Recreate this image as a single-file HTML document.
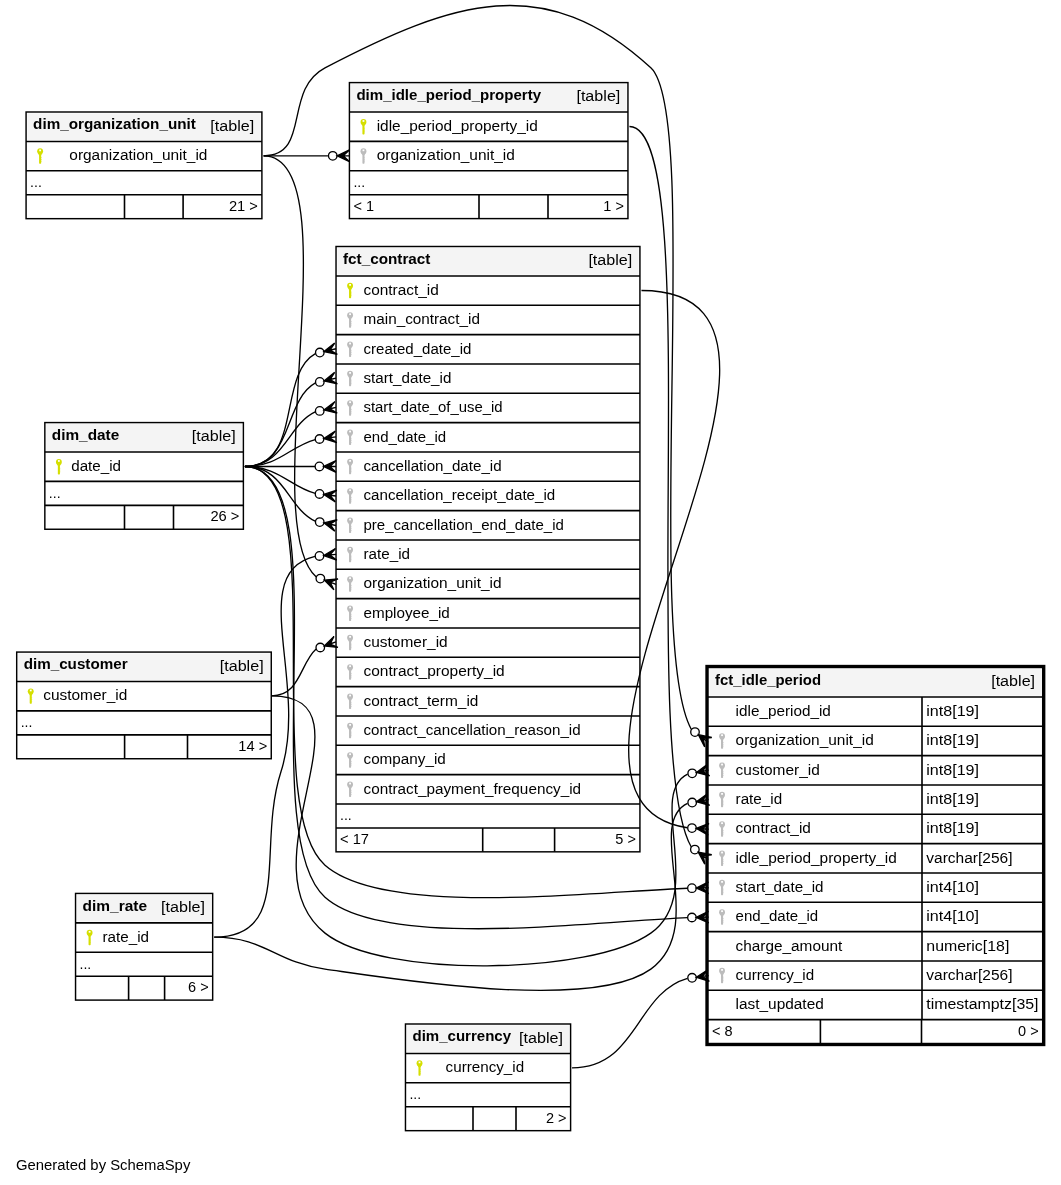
<!DOCTYPE html>
<html><head><meta charset="utf-8"><style>
html,body{margin:0;padding:0;background:#fff;width:1061px;height:1185px;overflow:hidden}
svg{display:block;will-change:transform}
text{font-family:"Liberation Sans",sans-serif;font-size:14.67px}
</style></head><body>
<svg width="1061" height="1185" viewBox="0 0 1061 1185">
<rect x="26.08" y="112.00" width="235.82" height="106.67" fill="#fff"/>
<rect x="27.48" y="113.40" width="233.02" height="26.73" fill="#f4f4f4"/>
<path d="M26.08,141.43H261.90M26.08,170.77H261.90M26.08,194.77H261.90M124.50,194.77V218.67M183.10,194.77V218.67" stroke="#000" stroke-width="1.6" fill="none"/>
<rect x="26.08" y="112.00" width="235.82" height="106.67" stroke="#000" stroke-width="1.45" fill="none"/>
<text x="33.08" y="129.30" textLength="162.81" lengthAdjust="spacingAndGlyphs" font-weight="bold" fill="#000">dim_organization_unit</text>
<text x="210.37" y="130.80" textLength="43.93" lengthAdjust="spacingAndGlyphs" fill="#000">[table]</text>
<g fill="#d5df00"><circle cx="40.13" cy="151.30" r="2.95"/><path d="M37.93,153.00L42.33,153.00L41.18,155.40L41.18,163.30Q40.13,164.30 39.08,163.30L39.08,155.40Z"/><rect x="41.03" y="157.20" width="0.45" height="0.9"/><rect x="41.03" y="159.00" width="0.45" height="0.9"/><rect x="41.03" y="160.80" width="0.45" height="0.9"/></g><rect x="39.23" y="149.50" width="1.8" height="1.75" fill="#fff"/>
<text x="69.30" y="160.38" textLength="138.14" lengthAdjust="spacingAndGlyphs" fill="#000">organization_unit_id</text>
<text x="30.08" y="187.17" textLength="11.71" lengthAdjust="spacingAndGlyphs" fill="#000">...</text>
<text x="228.92" y="210.77" textLength="28.98" lengthAdjust="spacingAndGlyphs" fill="#000">21 &gt;</text>
<rect x="349.42" y="82.60" width="278.53" height="136.00" fill="#fff"/>
<rect x="350.82" y="84.00" width="275.73" height="26.73" fill="#f4f4f4"/>
<path d="M349.42,112.03H627.95M349.42,141.37H627.95M349.42,170.70H627.95M349.42,194.70H627.95M479.00,194.70V218.60M548.00,194.70V218.60" stroke="#000" stroke-width="1.6" fill="none"/>
<rect x="349.42" y="82.60" width="278.53" height="136.00" stroke="#000" stroke-width="1.45" fill="none"/>
<text x="356.42" y="99.90" textLength="184.68" lengthAdjust="spacingAndGlyphs" font-weight="bold" fill="#000">dim_idle_period_property</text>
<text x="576.42" y="101.40" textLength="43.93" lengthAdjust="spacingAndGlyphs" fill="#000">[table]</text>
<g fill="#d5df00"><circle cx="363.47" cy="121.90" r="2.95"/><path d="M361.27,123.60L365.67,123.60L364.52,126.00L364.52,133.90Q363.47,134.90 362.42,133.90L362.42,126.00Z"/><rect x="364.37" y="127.80" width="0.45" height="0.9"/><rect x="364.37" y="129.60" width="0.45" height="0.9"/><rect x="364.37" y="131.40" width="0.45" height="0.9"/></g><rect x="362.57" y="120.10" width="1.8" height="1.75" fill="#fff"/>
<text x="376.70" y="130.98" textLength="161.17" lengthAdjust="spacingAndGlyphs" fill="#000">idle_period_property_id</text>
<g fill="#bcbcbc"><circle cx="363.47" cy="151.23" r="2.95"/><path d="M361.27,152.93L365.67,152.93L364.52,155.33L364.52,163.23Q363.47,164.23 362.42,163.23L362.42,155.33Z"/><rect x="364.37" y="157.13" width="0.45" height="0.9"/><rect x="364.37" y="158.93" width="0.45" height="0.9"/><rect x="364.37" y="160.73" width="0.45" height="0.9"/></g><rect x="362.57" y="149.43" width="1.8" height="1.75" fill="#fff"/>
<text x="376.70" y="160.32" textLength="138.14" lengthAdjust="spacingAndGlyphs" fill="#000">organization_unit_id</text>
<text x="353.42" y="187.10" textLength="11.71" lengthAdjust="spacingAndGlyphs" fill="#000">...</text>
<text x="353.42" y="210.70" textLength="20.59" lengthAdjust="spacingAndGlyphs" fill="#000">&lt; 1</text>
<text x="603.36" y="210.70" textLength="20.59" lengthAdjust="spacingAndGlyphs" fill="#000">1 &gt;</text>
<rect x="336.03" y="246.50" width="303.90" height="605.33" fill="#fff"/>
<rect x="337.43" y="247.90" width="301.10" height="26.73" fill="#f4f4f4"/>
<path d="M336.03,275.93H639.93M336.03,305.27H639.93M336.03,334.60H639.93M336.03,363.93H639.93M336.03,393.26H639.93M336.03,422.60H639.93M336.03,451.93H639.93M336.03,481.26H639.93M336.03,510.60H639.93M336.03,539.93H639.93M336.03,569.26H639.93M336.03,598.60H639.93M336.03,627.93H639.93M336.03,657.26H639.93M336.03,686.60H639.93M336.03,715.93H639.93M336.03,745.26H639.93M336.03,774.59H639.93M336.03,803.93H639.93M336.03,827.93H639.93M482.70,827.93V851.83M554.60,827.93V851.83" stroke="#000" stroke-width="1.6" fill="none"/>
<rect x="336.03" y="246.50" width="303.90" height="605.33" stroke="#000" stroke-width="1.45" fill="none"/>
<text x="343.03" y="263.80" textLength="87.40" lengthAdjust="spacingAndGlyphs" font-weight="bold" fill="#000">fct_contract</text>
<text x="588.40" y="265.30" textLength="43.93" lengthAdjust="spacingAndGlyphs" fill="#000">[table]</text>
<g fill="#d5df00"><circle cx="350.08" cy="285.80" r="2.95"/><path d="M347.88,287.50L352.28,287.50L351.13,289.90L351.13,297.80Q350.08,298.80 349.03,297.80L349.03,289.90Z"/><rect x="350.98" y="291.70" width="0.45" height="0.9"/><rect x="350.98" y="293.50" width="0.45" height="0.9"/><rect x="350.98" y="295.30" width="0.45" height="0.9"/></g><rect x="349.18" y="284.00" width="1.8" height="1.75" fill="#fff"/>
<text x="363.50" y="294.88" textLength="75.32" lengthAdjust="spacingAndGlyphs" fill="#000">contract_id</text>
<g fill="#bcbcbc"><circle cx="350.08" cy="315.13" r="2.95"/><path d="M347.88,316.83L352.28,316.83L351.13,319.23L351.13,327.13Q350.08,328.13 349.03,327.13L349.03,319.23Z"/><rect x="350.98" y="321.03" width="0.45" height="0.9"/><rect x="350.98" y="322.83" width="0.45" height="0.9"/><rect x="350.98" y="324.63" width="0.45" height="0.9"/></g><rect x="349.18" y="313.33" width="1.8" height="1.75" fill="#fff"/>
<text x="363.50" y="324.22" textLength="116.42" lengthAdjust="spacingAndGlyphs" fill="#000">main_contract_id</text>
<g fill="#bcbcbc"><circle cx="350.08" cy="344.47" r="2.95"/><path d="M347.88,346.17L352.28,346.17L351.13,348.57L351.13,356.47Q350.08,357.47 349.03,356.47L349.03,348.57Z"/><rect x="350.98" y="350.37" width="0.45" height="0.9"/><rect x="350.98" y="352.17" width="0.45" height="0.9"/><rect x="350.98" y="353.97" width="0.45" height="0.9"/></g><rect x="349.18" y="342.67" width="1.8" height="1.75" fill="#fff"/>
<text x="363.50" y="353.55" textLength="107.88" lengthAdjust="spacingAndGlyphs" fill="#000">created_date_id</text>
<g fill="#bcbcbc"><circle cx="350.08" cy="373.80" r="2.95"/><path d="M347.88,375.50L352.28,375.50L351.13,377.90L351.13,385.80Q350.08,386.80 349.03,385.80L349.03,377.90Z"/><rect x="350.98" y="379.70" width="0.45" height="0.9"/><rect x="350.98" y="381.50" width="0.45" height="0.9"/><rect x="350.98" y="383.30" width="0.45" height="0.9"/></g><rect x="349.18" y="372.00" width="1.8" height="1.75" fill="#fff"/>
<text x="363.50" y="382.88" textLength="87.92" lengthAdjust="spacingAndGlyphs" fill="#000">start_date_id</text>
<g fill="#bcbcbc"><circle cx="350.08" cy="403.13" r="2.95"/><path d="M347.88,404.83L352.28,404.83L351.13,407.23L351.13,415.13Q350.08,416.13 349.03,415.13L349.03,407.23Z"/><rect x="350.98" y="409.03" width="0.45" height="0.9"/><rect x="350.98" y="410.83" width="0.45" height="0.9"/><rect x="350.98" y="412.63" width="0.45" height="0.9"/></g><rect x="349.18" y="401.33" width="1.8" height="1.75" fill="#fff"/>
<text x="363.50" y="412.21" textLength="139.13" lengthAdjust="spacingAndGlyphs" fill="#000">start_date_of_use_id</text>
<g fill="#bcbcbc"><circle cx="350.08" cy="432.46" r="2.95"/><path d="M347.88,434.16L352.28,434.16L351.13,436.56L351.13,444.46Q350.08,445.46 349.03,444.46L349.03,436.56Z"/><rect x="350.98" y="438.36" width="0.45" height="0.9"/><rect x="350.98" y="440.16" width="0.45" height="0.9"/><rect x="350.98" y="441.96" width="0.45" height="0.9"/></g><rect x="349.18" y="430.66" width="1.8" height="1.75" fill="#fff"/>
<text x="363.50" y="441.55" textLength="82.64" lengthAdjust="spacingAndGlyphs" fill="#000">end_date_id</text>
<g fill="#bcbcbc"><circle cx="350.08" cy="461.80" r="2.95"/><path d="M347.88,463.50L352.28,463.50L351.13,465.90L351.13,473.80Q350.08,474.80 349.03,473.80L349.03,465.90Z"/><rect x="350.98" y="467.70" width="0.45" height="0.9"/><rect x="350.98" y="469.50" width="0.45" height="0.9"/><rect x="350.98" y="471.30" width="0.45" height="0.9"/></g><rect x="349.18" y="460.00" width="1.8" height="1.75" fill="#fff"/>
<text x="363.50" y="470.88" textLength="138.11" lengthAdjust="spacingAndGlyphs" fill="#000">cancellation_date_id</text>
<g fill="#bcbcbc"><circle cx="350.08" cy="491.13" r="2.95"/><path d="M347.88,492.83L352.28,492.83L351.13,495.23L351.13,503.13Q350.08,504.13 349.03,503.13L349.03,495.23Z"/><rect x="350.98" y="497.03" width="0.45" height="0.9"/><rect x="350.98" y="498.83" width="0.45" height="0.9"/><rect x="350.98" y="500.63" width="0.45" height="0.9"/></g><rect x="349.18" y="489.33" width="1.8" height="1.75" fill="#fff"/>
<text x="363.50" y="500.21" textLength="191.70" lengthAdjust="spacingAndGlyphs" fill="#000">cancellation_receipt_date_id</text>
<g fill="#bcbcbc"><circle cx="350.08" cy="520.46" r="2.95"/><path d="M347.88,522.16L352.28,522.16L351.13,524.56L351.13,532.46Q350.08,533.46 349.03,532.46L349.03,524.56Z"/><rect x="350.98" y="526.36" width="0.45" height="0.9"/><rect x="350.98" y="528.16" width="0.45" height="0.9"/><rect x="350.98" y="529.96" width="0.45" height="0.9"/></g><rect x="349.18" y="518.66" width="1.8" height="1.75" fill="#fff"/>
<text x="363.50" y="529.55" textLength="200.40" lengthAdjust="spacingAndGlyphs" fill="#000">pre_cancellation_end_date_id</text>
<g fill="#bcbcbc"><circle cx="350.08" cy="549.80" r="2.95"/><path d="M347.88,551.50L352.28,551.50L351.13,553.90L351.13,561.80Q350.08,562.80 349.03,561.80L349.03,553.90Z"/><rect x="350.98" y="555.70" width="0.45" height="0.9"/><rect x="350.98" y="557.50" width="0.45" height="0.9"/><rect x="350.98" y="559.30" width="0.45" height="0.9"/></g><rect x="349.18" y="548.00" width="1.8" height="1.75" fill="#fff"/>
<text x="363.50" y="558.88" textLength="46.54" lengthAdjust="spacingAndGlyphs" fill="#000">rate_id</text>
<g fill="#bcbcbc"><circle cx="350.08" cy="579.13" r="2.95"/><path d="M347.88,580.83L352.28,580.83L351.13,583.23L351.13,591.13Q350.08,592.13 349.03,591.13L349.03,583.23Z"/><rect x="350.98" y="585.03" width="0.45" height="0.9"/><rect x="350.98" y="586.83" width="0.45" height="0.9"/><rect x="350.98" y="588.63" width="0.45" height="0.9"/></g><rect x="349.18" y="577.33" width="1.8" height="1.75" fill="#fff"/>
<text x="363.50" y="588.21" textLength="138.14" lengthAdjust="spacingAndGlyphs" fill="#000">organization_unit_id</text>
<g fill="#bcbcbc"><circle cx="350.08" cy="608.46" r="2.95"/><path d="M347.88,610.16L352.28,610.16L351.13,612.56L351.13,620.46Q350.08,621.46 349.03,620.46L349.03,612.56Z"/><rect x="350.98" y="614.36" width="0.45" height="0.9"/><rect x="350.98" y="616.16" width="0.45" height="0.9"/><rect x="350.98" y="617.96" width="0.45" height="0.9"/></g><rect x="349.18" y="606.66" width="1.8" height="1.75" fill="#fff"/>
<text x="363.50" y="617.55" textLength="86.27" lengthAdjust="spacingAndGlyphs" fill="#000">employee_id</text>
<g fill="#bcbcbc"><circle cx="350.08" cy="637.80" r="2.95"/><path d="M347.88,639.50L352.28,639.50L351.13,641.90L351.13,649.80Q350.08,650.80 349.03,649.80L349.03,641.90Z"/><rect x="350.98" y="643.70" width="0.45" height="0.9"/><rect x="350.98" y="645.50" width="0.45" height="0.9"/><rect x="350.98" y="647.30" width="0.45" height="0.9"/></g><rect x="349.18" y="636.00" width="1.8" height="1.75" fill="#fff"/>
<text x="363.50" y="646.88" textLength="84.17" lengthAdjust="spacingAndGlyphs" fill="#000">customer_id</text>
<g fill="#bcbcbc"><circle cx="350.08" cy="667.13" r="2.95"/><path d="M347.88,668.83L352.28,668.83L351.13,671.23L351.13,679.13Q350.08,680.13 349.03,679.13L349.03,671.23Z"/><rect x="350.98" y="673.03" width="0.45" height="0.9"/><rect x="350.98" y="674.83" width="0.45" height="0.9"/><rect x="350.98" y="676.63" width="0.45" height="0.9"/></g><rect x="349.18" y="665.33" width="1.8" height="1.75" fill="#fff"/>
<text x="363.50" y="676.21" textLength="141.22" lengthAdjust="spacingAndGlyphs" fill="#000">contract_property_id</text>
<g fill="#bcbcbc"><circle cx="350.08" cy="696.46" r="2.95"/><path d="M347.88,698.16L352.28,698.16L351.13,700.56L351.13,708.46Q350.08,709.46 349.03,708.46L349.03,700.56Z"/><rect x="350.98" y="702.36" width="0.45" height="0.9"/><rect x="350.98" y="704.16" width="0.45" height="0.9"/><rect x="350.98" y="705.96" width="0.45" height="0.9"/></g><rect x="349.18" y="694.66" width="1.8" height="1.75" fill="#fff"/>
<text x="363.50" y="705.54" textLength="114.94" lengthAdjust="spacingAndGlyphs" fill="#000">contract_term_id</text>
<g fill="#bcbcbc"><circle cx="350.08" cy="725.79" r="2.95"/><path d="M347.88,727.49L352.28,727.49L351.13,729.89L351.13,737.79Q350.08,738.79 349.03,737.79L349.03,729.89Z"/><rect x="350.98" y="731.69" width="0.45" height="0.9"/><rect x="350.98" y="733.49" width="0.45" height="0.9"/><rect x="350.98" y="735.29" width="0.45" height="0.9"/></g><rect x="349.18" y="723.99" width="1.8" height="1.75" fill="#fff"/>
<text x="363.50" y="734.88" textLength="217.12" lengthAdjust="spacingAndGlyphs" fill="#000">contract_cancellation_reason_id</text>
<g fill="#bcbcbc"><circle cx="350.08" cy="755.13" r="2.95"/><path d="M347.88,756.83L352.28,756.83L351.13,759.23L351.13,767.13Q350.08,768.13 349.03,767.13L349.03,759.23Z"/><rect x="350.98" y="761.03" width="0.45" height="0.9"/><rect x="350.98" y="762.83" width="0.45" height="0.9"/><rect x="350.98" y="764.63" width="0.45" height="0.9"/></g><rect x="349.18" y="753.33" width="1.8" height="1.75" fill="#fff"/>
<text x="363.50" y="764.21" textLength="82.31" lengthAdjust="spacingAndGlyphs" fill="#000">company_id</text>
<g fill="#bcbcbc"><circle cx="350.08" cy="784.46" r="2.95"/><path d="M347.88,786.16L352.28,786.16L351.13,788.56L351.13,796.46Q350.08,797.46 349.03,796.46L349.03,788.56Z"/><rect x="350.98" y="790.36" width="0.45" height="0.9"/><rect x="350.98" y="792.16" width="0.45" height="0.9"/><rect x="350.98" y="793.96" width="0.45" height="0.9"/></g><rect x="349.18" y="782.66" width="1.8" height="1.75" fill="#fff"/>
<text x="363.50" y="793.54" textLength="217.58" lengthAdjust="spacingAndGlyphs" fill="#000">contract_payment_frequency_id</text>
<text x="340.03" y="820.33" textLength="11.71" lengthAdjust="spacingAndGlyphs" fill="#000">...</text>
<text x="340.03" y="843.93" textLength="28.98" lengthAdjust="spacingAndGlyphs" fill="#000">&lt; 17</text>
<text x="615.34" y="843.93" textLength="20.59" lengthAdjust="spacingAndGlyphs" fill="#000">5 &gt;</text>
<rect x="44.84" y="422.58" width="198.54" height="106.67" fill="#fff"/>
<rect x="46.24" y="423.98" width="195.74" height="26.73" fill="#f4f4f4"/>
<path d="M44.84,452.01H243.38M44.84,481.35H243.38M44.84,505.35H243.38M124.50,505.35V529.25M173.50,505.35V529.25" stroke="#000" stroke-width="1.6" fill="none"/>
<rect x="44.84" y="422.58" width="198.54" height="106.67" stroke="#000" stroke-width="1.45" fill="none"/>
<text x="51.84" y="439.88" textLength="67.38" lengthAdjust="spacingAndGlyphs" font-weight="bold" fill="#000">dim_date</text>
<text x="191.85" y="441.38" textLength="43.93" lengthAdjust="spacingAndGlyphs" fill="#000">[table]</text>
<g fill="#d5df00"><circle cx="58.89" cy="461.88" r="2.95"/><path d="M56.69,463.58L61.09,463.58L59.94,465.98L59.94,473.88Q58.89,474.88 57.84,473.88L57.84,465.98Z"/><rect x="59.79" y="467.78" width="0.45" height="0.9"/><rect x="59.79" y="469.58" width="0.45" height="0.9"/><rect x="59.79" y="471.38" width="0.45" height="0.9"/></g><rect x="57.99" y="460.08" width="1.8" height="1.75" fill="#fff"/>
<text x="71.20" y="470.96" textLength="49.84" lengthAdjust="spacingAndGlyphs" fill="#000">date_id</text>
<text x="48.84" y="497.75" textLength="11.71" lengthAdjust="spacingAndGlyphs" fill="#000">...</text>
<text x="210.40" y="521.35" textLength="28.98" lengthAdjust="spacingAndGlyphs" fill="#000">26 &gt;</text>
<rect x="16.70" y="652.07" width="254.56" height="106.67" fill="#fff"/>
<rect x="18.10" y="653.47" width="251.76" height="26.73" fill="#f4f4f4"/>
<path d="M16.70,681.50H271.26M16.70,710.84H271.26M16.70,734.84H271.26M124.60,734.84V758.74M187.50,734.84V758.74" stroke="#000" stroke-width="1.6" fill="none"/>
<rect x="16.70" y="652.07" width="254.56" height="106.67" stroke="#000" stroke-width="1.45" fill="none"/>
<text x="23.70" y="669.37" textLength="103.86" lengthAdjust="spacingAndGlyphs" font-weight="bold" fill="#000">dim_customer</text>
<text x="219.73" y="670.87" textLength="43.93" lengthAdjust="spacingAndGlyphs" fill="#000">[table]</text>
<g fill="#d5df00"><circle cx="30.75" cy="691.37" r="2.95"/><path d="M28.55,693.07L32.95,693.07L31.80,695.47L31.80,703.37Q30.75,704.37 29.70,703.37L29.70,695.47Z"/><rect x="31.65" y="697.27" width="0.45" height="0.9"/><rect x="31.65" y="699.07" width="0.45" height="0.9"/><rect x="31.65" y="700.87" width="0.45" height="0.9"/></g><rect x="29.85" y="689.57" width="1.8" height="1.75" fill="#fff"/>
<text x="43.20" y="700.45" textLength="84.17" lengthAdjust="spacingAndGlyphs" fill="#000">customer_id</text>
<text x="20.70" y="727.24" textLength="11.71" lengthAdjust="spacingAndGlyphs" fill="#000">...</text>
<text x="238.28" y="750.84" textLength="28.98" lengthAdjust="spacingAndGlyphs" fill="#000">14 &gt;</text>
<rect x="75.55" y="893.43" width="137.12" height="106.67" fill="#fff"/>
<rect x="76.95" y="894.83" width="134.32" height="26.73" fill="#f4f4f4"/>
<path d="M75.55,922.86H212.67M75.55,952.20H212.67M75.55,976.20H212.67M128.60,976.20V1000.10M164.60,976.20V1000.10" stroke="#000" stroke-width="1.6" fill="none"/>
<rect x="75.55" y="893.43" width="137.12" height="106.67" stroke="#000" stroke-width="1.45" fill="none"/>
<text x="82.55" y="910.73" textLength="64.46" lengthAdjust="spacingAndGlyphs" font-weight="bold" fill="#000">dim_rate</text>
<text x="161.14" y="912.23" textLength="43.93" lengthAdjust="spacingAndGlyphs" fill="#000">[table]</text>
<g fill="#d5df00"><circle cx="89.60" cy="932.73" r="2.95"/><path d="M87.40,934.43L91.80,934.43L90.65,936.83L90.65,944.73Q89.60,945.73 88.55,944.73L88.55,936.83Z"/><rect x="90.50" y="938.63" width="0.45" height="0.9"/><rect x="90.50" y="940.43" width="0.45" height="0.9"/><rect x="90.50" y="942.23" width="0.45" height="0.9"/></g><rect x="88.70" y="930.93" width="1.8" height="1.75" fill="#fff"/>
<text x="102.50" y="941.81" textLength="46.54" lengthAdjust="spacingAndGlyphs" fill="#000">rate_id</text>
<text x="79.55" y="968.60" textLength="11.71" lengthAdjust="spacingAndGlyphs" fill="#000">...</text>
<text x="188.08" y="992.20" textLength="20.59" lengthAdjust="spacingAndGlyphs" fill="#000">6 &gt;</text>
<rect x="405.47" y="1024.00" width="165.13" height="106.67" fill="#fff"/>
<rect x="406.87" y="1025.40" width="162.33" height="26.73" fill="#f4f4f4"/>
<path d="M405.47,1053.43H570.60M405.47,1082.77H570.60M405.47,1106.77H570.60M473.00,1106.77V1130.67M516.00,1106.77V1130.67" stroke="#000" stroke-width="1.6" fill="none"/>
<rect x="405.47" y="1024.00" width="165.13" height="106.67" stroke="#000" stroke-width="1.45" fill="none"/>
<text x="412.47" y="1041.30" textLength="98.61" lengthAdjust="spacingAndGlyphs" font-weight="bold" fill="#000">dim_currency</text>
<text x="519.07" y="1042.80" textLength="43.93" lengthAdjust="spacingAndGlyphs" fill="#000">[table]</text>
<g fill="#d5df00"><circle cx="419.52" cy="1063.30" r="2.95"/><path d="M417.32,1065.00L421.72,1065.00L420.57,1067.40L420.57,1075.30Q419.52,1076.30 418.47,1075.30L418.47,1067.40Z"/><rect x="420.42" y="1069.20" width="0.45" height="0.9"/><rect x="420.42" y="1071.00" width="0.45" height="0.9"/><rect x="420.42" y="1072.80" width="0.45" height="0.9"/></g><rect x="418.62" y="1061.50" width="1.8" height="1.75" fill="#fff"/>
<text x="445.60" y="1072.38" textLength="78.56" lengthAdjust="spacingAndGlyphs" fill="#000">currency_id</text>
<text x="409.47" y="1099.17" textLength="11.71" lengthAdjust="spacingAndGlyphs" fill="#000">...</text>
<text x="546.01" y="1122.77" textLength="20.59" lengthAdjust="spacingAndGlyphs" fill="#000">2 &gt;</text>
<rect x="708.00" y="667.50" width="334.70" height="376.00" fill="#fff"/>
<rect x="709.40" y="668.90" width="331.90" height="26.73" fill="#f4f4f4"/>
<path d="M708.00,696.93H1042.70M708.00,726.27H1042.70M708.00,755.60H1042.70M708.00,784.93H1042.70M708.00,814.26H1042.70M708.00,843.60H1042.70M708.00,872.93H1042.70M708.00,902.26H1042.70M708.00,931.60H1042.70M708.00,960.93H1042.70M708.00,990.26H1042.70M708.00,1019.60H1042.70M820.40,1019.60V1043.50M921.50,1019.60V1043.50M922.00,696.83V1019.50" stroke="#000" stroke-width="1.6" fill="none"/>
<rect x="708.00" y="667.50" width="334.70" height="376.00" stroke="#000" stroke-width="1.45" fill="none"/>
<rect x="706.67" y="666.17" width="337.37" height="378.67" stroke="#000" stroke-width="2.67" fill="none"/>
<text x="715.00" y="684.80" textLength="106.01" lengthAdjust="spacingAndGlyphs" font-weight="bold" fill="#000">fct_idle_period</text>
<text x="991.17" y="686.30" textLength="43.93" lengthAdjust="spacingAndGlyphs" fill="#000">[table]</text>
<text x="735.60" y="715.88" textLength="95.27" lengthAdjust="spacingAndGlyphs" fill="#000">idle_period_id</text>
<text x="926.30" y="715.88" textLength="52.72" lengthAdjust="spacingAndGlyphs" fill="#000">int8[19]</text>
<g fill="#bcbcbc"><circle cx="722.05" cy="736.13" r="2.95"/><path d="M719.85,737.83L724.25,737.83L723.10,740.23L723.10,748.13Q722.05,749.13 721.00,748.13L721.00,740.23Z"/><rect x="722.95" y="742.03" width="0.45" height="0.9"/><rect x="722.95" y="743.83" width="0.45" height="0.9"/><rect x="722.95" y="745.63" width="0.45" height="0.9"/></g><rect x="721.15" y="734.33" width="1.8" height="1.75" fill="#fff"/>
<text x="735.60" y="745.22" textLength="138.14" lengthAdjust="spacingAndGlyphs" fill="#000">organization_unit_id</text>
<text x="926.30" y="745.22" textLength="52.72" lengthAdjust="spacingAndGlyphs" fill="#000">int8[19]</text>
<g fill="#bcbcbc"><circle cx="722.05" cy="765.47" r="2.95"/><path d="M719.85,767.17L724.25,767.17L723.10,769.57L723.10,777.47Q722.05,778.47 721.00,777.47L721.00,769.57Z"/><rect x="722.95" y="771.37" width="0.45" height="0.9"/><rect x="722.95" y="773.17" width="0.45" height="0.9"/><rect x="722.95" y="774.97" width="0.45" height="0.9"/></g><rect x="721.15" y="763.67" width="1.8" height="1.75" fill="#fff"/>
<text x="735.60" y="774.55" textLength="84.17" lengthAdjust="spacingAndGlyphs" fill="#000">customer_id</text>
<text x="926.30" y="774.55" textLength="52.72" lengthAdjust="spacingAndGlyphs" fill="#000">int8[19]</text>
<g fill="#bcbcbc"><circle cx="722.05" cy="794.80" r="2.95"/><path d="M719.85,796.50L724.25,796.50L723.10,798.90L723.10,806.80Q722.05,807.80 721.00,806.80L721.00,798.90Z"/><rect x="722.95" y="800.70" width="0.45" height="0.9"/><rect x="722.95" y="802.50" width="0.45" height="0.9"/><rect x="722.95" y="804.30" width="0.45" height="0.9"/></g><rect x="721.15" y="793.00" width="1.8" height="1.75" fill="#fff"/>
<text x="735.60" y="803.88" textLength="46.54" lengthAdjust="spacingAndGlyphs" fill="#000">rate_id</text>
<text x="926.30" y="803.88" textLength="52.72" lengthAdjust="spacingAndGlyphs" fill="#000">int8[19]</text>
<g fill="#bcbcbc"><circle cx="722.05" cy="824.13" r="2.95"/><path d="M719.85,825.83L724.25,825.83L723.10,828.23L723.10,836.13Q722.05,837.13 721.00,836.13L721.00,828.23Z"/><rect x="722.95" y="830.03" width="0.45" height="0.9"/><rect x="722.95" y="831.83" width="0.45" height="0.9"/><rect x="722.95" y="833.63" width="0.45" height="0.9"/></g><rect x="721.15" y="822.33" width="1.8" height="1.75" fill="#fff"/>
<text x="735.60" y="833.21" textLength="75.32" lengthAdjust="spacingAndGlyphs" fill="#000">contract_id</text>
<text x="926.30" y="833.21" textLength="52.72" lengthAdjust="spacingAndGlyphs" fill="#000">int8[19]</text>
<g fill="#bcbcbc"><circle cx="722.05" cy="853.46" r="2.95"/><path d="M719.85,855.16L724.25,855.16L723.10,857.56L723.10,865.46Q722.05,866.46 721.00,865.46L721.00,857.56Z"/><rect x="722.95" y="859.36" width="0.45" height="0.9"/><rect x="722.95" y="861.16" width="0.45" height="0.9"/><rect x="722.95" y="862.96" width="0.45" height="0.9"/></g><rect x="721.15" y="851.66" width="1.8" height="1.75" fill="#fff"/>
<text x="735.60" y="862.55" textLength="161.17" lengthAdjust="spacingAndGlyphs" fill="#000">idle_period_property_id</text>
<text x="926.30" y="862.55" textLength="86.16" lengthAdjust="spacingAndGlyphs" fill="#000">varchar[256]</text>
<g fill="#bcbcbc"><circle cx="722.05" cy="882.80" r="2.95"/><path d="M719.85,884.50L724.25,884.50L723.10,886.90L723.10,894.80Q722.05,895.80 721.00,894.80L721.00,886.90Z"/><rect x="722.95" y="888.70" width="0.45" height="0.9"/><rect x="722.95" y="890.50" width="0.45" height="0.9"/><rect x="722.95" y="892.30" width="0.45" height="0.9"/></g><rect x="721.15" y="881.00" width="1.8" height="1.75" fill="#fff"/>
<text x="735.60" y="891.88" textLength="87.92" lengthAdjust="spacingAndGlyphs" fill="#000">start_date_id</text>
<text x="926.30" y="891.88" textLength="52.72" lengthAdjust="spacingAndGlyphs" fill="#000">int4[10]</text>
<g fill="#bcbcbc"><circle cx="722.05" cy="912.13" r="2.95"/><path d="M719.85,913.83L724.25,913.83L723.10,916.23L723.10,924.13Q722.05,925.13 721.00,924.13L721.00,916.23Z"/><rect x="722.95" y="918.03" width="0.45" height="0.9"/><rect x="722.95" y="919.83" width="0.45" height="0.9"/><rect x="722.95" y="921.63" width="0.45" height="0.9"/></g><rect x="721.15" y="910.33" width="1.8" height="1.75" fill="#fff"/>
<text x="735.60" y="921.21" textLength="82.64" lengthAdjust="spacingAndGlyphs" fill="#000">end_date_id</text>
<text x="926.30" y="921.21" textLength="52.72" lengthAdjust="spacingAndGlyphs" fill="#000">int4[10]</text>
<text x="735.60" y="950.55" textLength="106.69" lengthAdjust="spacingAndGlyphs" fill="#000">charge_amount</text>
<text x="926.30" y="950.55" textLength="83.00" lengthAdjust="spacingAndGlyphs" fill="#000">numeric[18]</text>
<g fill="#bcbcbc"><circle cx="722.05" cy="970.80" r="2.95"/><path d="M719.85,972.50L724.25,972.50L723.10,974.90L723.10,982.80Q722.05,983.80 721.00,982.80L721.00,974.90Z"/><rect x="722.95" y="976.70" width="0.45" height="0.9"/><rect x="722.95" y="978.50" width="0.45" height="0.9"/><rect x="722.95" y="980.30" width="0.45" height="0.9"/></g><rect x="721.15" y="969.00" width="1.8" height="1.75" fill="#fff"/>
<text x="735.60" y="979.88" textLength="78.56" lengthAdjust="spacingAndGlyphs" fill="#000">currency_id</text>
<text x="926.30" y="979.88" textLength="86.16" lengthAdjust="spacingAndGlyphs" fill="#000">varchar[256]</text>
<text x="735.60" y="1009.21" textLength="88.17" lengthAdjust="spacingAndGlyphs" fill="#000">last_updated</text>
<text x="926.30" y="1009.21" textLength="112.21" lengthAdjust="spacingAndGlyphs" fill="#000">timestamptz[35]</text>
<text x="712.00" y="1035.60" textLength="20.59" lengthAdjust="spacingAndGlyphs" fill="#000">&lt; 8</text>
<text x="1018.11" y="1035.60" textLength="20.59" lengthAdjust="spacingAndGlyphs" fill="#000">0 &gt;</text>
<text x="16.00" y="1169.50" textLength="174.32" lengthAdjust="spacingAndGlyphs" fill="#000">Generated by SchemaSpy</text>
<g fill="none" stroke="#000" stroke-width="1.33">
<path d="M327.92,155.81C305.37,155.81 293.38,155.81 263.59,155.81"/>
<polygon fill="#000" points="337.03,155.81 349.42,149.95 343.22,155.81 349.42,155.81 349.42,155.81 349.42,155.81 343.22,155.81 349.42,161.66 337.03,155.81"/>
<circle cx="332.75" cy="155.81" r="4.27"/>
<path d="M316.30,577.09C254.76,522.63 352.96,155.81 263.59,155.81"/>
<polygon fill="#000" points="324.34,580.09 338.01,578.92 330.15,582.24 335.96,584.40 335.96,584.40 335.96,584.40 330.15,582.24 333.90,589.88 324.34,580.09"/>
<circle cx="320.35" cy="578.59" r="4.27"/>
<path d="M315.10,466.47C289.94,466.47 277.35,466.47 244.89,466.47"/>
<polygon fill="#000" points="323.67,466.47 336.06,460.62 329.87,466.47 336.06,466.47 336.06,466.47 336.06,466.47 329.87,466.47 336.06,472.33 323.67,466.47"/>
<circle cx="319.40" cy="466.47" r="4.27"/>
<path d="M315.23,493.41C289.37,486.41 279.38,466.47 244.89,466.47"/>
<polygon fill="#000" points="323.75,494.47 336.78,490.21 329.90,495.25 336.05,496.02 336.05,496.02 336.05,496.02 329.90,495.25 335.32,501.83 323.75,494.47"/>
<circle cx="319.52" cy="493.94" r="4.27"/>
<path d="M315.35,353.59C277.05,375.03 302.84,466.47 244.89,466.47"/>
<polygon fill="#000" points="323.95,351.58 334.68,343.06 329.99,350.16 336.02,348.75 336.02,348.75 336.02,348.75 329.99,350.16 337.36,354.44 323.95,351.58"/>
<circle cx="319.80" cy="352.55" r="4.27"/>
<path d="M315.23,439.54C289.37,446.54 279.38,466.47 244.89,466.47"/>
<polygon fill="#000" points="323.75,438.47 335.32,431.12 329.90,437.70 336.05,436.93 336.05,436.93 336.05,436.93 329.90,437.70 336.78,442.73 323.75,438.47"/>
<circle cx="319.52" cy="439.01" r="4.27"/>
<path d="M315.15,521.11C287.23,507.85 284.84,466.47 244.89,466.47"/>
<polygon fill="#000" points="323.90,522.94 337.23,519.77 329.96,524.22 336.03,525.49 336.03,525.49 336.03,525.49 329.96,524.22 334.82,531.22 323.90,522.94"/>
<circle cx="319.72" cy="522.06" r="4.27"/>
<path d="M315.43,382.95C283.15,400.89 293.07,466.47 244.89,466.47"/>
<polygon fill="#000" points="323.97,380.94 334.67,372.39 329.99,379.51 336.02,378.08 336.02,378.08 336.02,378.08 329.99,379.51 337.37,383.77 323.97,380.94"/>
<circle cx="319.80" cy="381.93" r="4.27"/>
<path d="M315.15,411.83C287.23,425.10 284.84,466.47 244.89,466.47"/>
<polygon fill="#000" points="323.90,410.01 334.82,401.73 329.96,408.73 336.03,407.45 336.03,407.45 336.03,407.45 329.96,408.73 337.23,413.18 323.90,410.01"/>
<circle cx="319.72" cy="410.89" r="4.27"/>
<path d="M316.10,649.01C300.07,663.26 300.21,695.81 271.60,695.81"/>
<polygon fill="#000" points="324.30,646.07 333.98,636.38 330.13,643.99 335.96,641.90 335.96,641.90 335.96,641.90 330.13,643.99 337.95,647.41 324.30,646.07"/>
<circle cx="320.28" cy="647.51" r="4.27"/>
<path d="M314.98,556.43C245.56,572.53 309.25,684.18 280.95,771.81 256.59,847.21 293.52,937.14 214.18,937.14"/>
<polygon fill="#000" points="323.73,555.55 335.47,548.48 329.89,554.93 336.06,554.30 336.06,554.30 336.06,554.30 329.89,554.93 336.64,560.12 323.73,555.55"/>
<circle cx="319.48" cy="555.98" r="4.27"/>
<path d="M691.29,846.98C636.88,753.85 705.27,126.47 629.44,126.47"/>
<polygon fill="#000" points="698.29,852.14 711.75,854.77 703.28,855.81 708.27,859.49 708.27,859.49 708.27,859.49 703.28,855.81 704.78,864.20 698.29,852.14"/>
<circle cx="694.86" cy="849.61" r="4.27"/>
<path d="M691.25,729.23C643.05,642.86 701.59,114.47 650.81,67.81 544.26,-30.11 453.38,0.90 325.01,67.81 282.68,89.86 311.32,155.81 263.59,155.81"/>
<polygon fill="#000" points="698.40,734.67 711.80,737.52 703.32,738.42 708.25,742.17 708.25,742.17 708.25,742.17 703.32,738.42 704.70,746.83 698.40,734.67"/>
<circle cx="694.99" cy="732.09" r="4.27"/>
<path d="M687.33,827.78C489.28,798.03 875.89,290.47 641.46,290.47"/>
<polygon fill="#000" points="696.23,828.39 709.00,823.42 702.41,828.83 708.59,829.26 708.59,829.26 708.59,829.26 702.41,828.83 708.19,835.10 696.23,828.39"/>
<circle cx="691.97" cy="828.10" r="4.27"/>
<path d="M687.49,917.61C590.79,921.69 384.12,949.73 325.01,897.14 252.22,832.39 342.38,466.47 244.89,466.47"/>
<polygon fill="#000" points="696.21,917.39 708.45,911.24 702.40,917.25 708.60,917.10 708.60,917.10 708.60,917.10 702.40,917.25 708.74,922.96 696.21,917.39"/>
<circle cx="691.93" cy="917.50" r="4.27"/>
<path d="M687.49,888.23C590.82,891.94 384.56,917.27 325.01,865.14 256.96,805.58 335.38,466.47 244.89,466.47"/>
<polygon fill="#000" points="696.21,888.05 708.47,881.91 702.40,887.91 708.60,887.77 708.60,887.77 708.60,887.77 702.40,887.91 708.73,893.62 696.21,888.05"/>
<circle cx="691.93" cy="888.14" r="4.27"/>
<path d="M687.62,774.19C646.18,794.59 706.57,893.42 650.81,933.14 591.87,975.13 381.54,978.31 325.01,933.14 240.47,865.59 379.86,695.81 271.60,695.81"/>
<polygon fill="#000" points="696.41,772.50 707.46,764.41 702.49,771.32 708.57,770.15 708.57,770.15 708.57,770.15 702.49,771.32 709.67,775.89 696.41,772.50"/>
<circle cx="692.20" cy="773.31" r="4.27"/>
<path d="M687.54,803.41C643.75,823.98 708.61,927.43 650.81,969.14 592.12,1011.49 396.70,979.29 325.01,969.14 274.24,961.95 265.46,937.14 214.18,937.14"/>
<polygon fill="#000" points="696.38,801.75 707.50,793.74 702.48,800.62 708.57,799.50 708.57,799.50 708.57,799.50 702.48,800.62 709.65,805.25 696.38,801.75"/>
<circle cx="692.19" cy="802.54" r="4.27"/>
<path d="M687.50,978.37C635.53,993.22 637.39,1067.81 572.03,1067.81"/>
<polygon fill="#000" points="696.30,977.21 707.82,969.78 702.44,976.39 708.58,975.58 708.58,975.58 708.58,975.58 702.44,976.39 709.35,981.39 696.30,977.21"/>
<circle cx="692.07" cy="977.77" r="4.27"/>
</g>
</svg>
</body></html>
